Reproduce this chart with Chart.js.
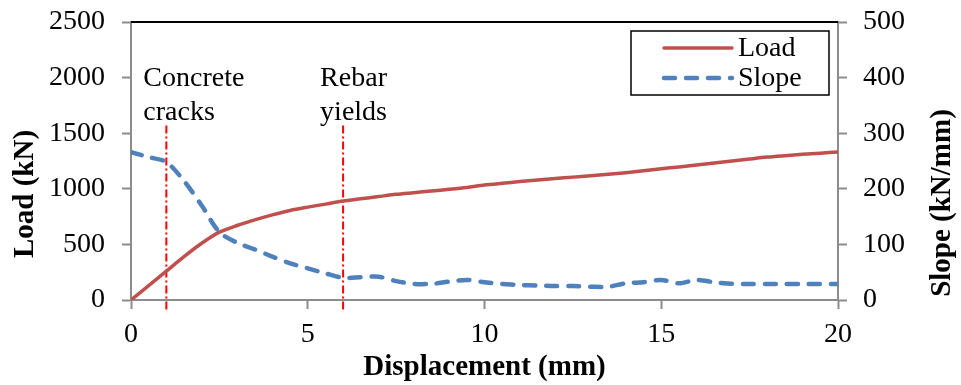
<!DOCTYPE html>
<html>
<head>
<meta charset="utf-8">
<script src="https://cdn.jsdelivr.net/npm/chart.js@4/dist/chart.umd.min.js"></script>
<style>
  body { margin: 0; background: #fff; }
  #wrap { width: 961px; height: 385px; }
</style>
</head>
<body>
<div id="wrap"><canvas id="loadChart" width="961" height="385"></canvas></div>
<script>
// displacement (mm)
const displacement = [0, 0.5, 1, 1.5, 2, 2.5, 3, 3.5, 4, 4.5, 5, 5.5, 6, 6.5, 7, 7.5, 8, 8.5, 9, 9.5,
    10, 10.5, 11, 11.5, 12, 12.5, 13, 13.5, 14, 14.5, 15, 15.5, 16, 16.5, 17, 17.5, 18, 18.5, 19, 19.5, 20];
// load (kN)
const load = [0, 130, 260, 390, 510, 610, 670, 720, 765, 805, 835, 862, 890, 910, 930, 950, 965, 980, 995, 1012,
    1034, 1050, 1065, 1079, 1092, 1105, 1118, 1131, 1145, 1162, 1180, 1197, 1215, 1232, 1250, 1268, 1285, 1298, 1310, 1320, 1331];
// slope (kN/mm)
const slope = [266, 257, 248, 214, 170, 122, 103, 91, 78, 66, 57, 48, 40, 41, 42, 34, 29, 29, 33, 36,
    32, 29, 27, 26, 25, 25, 24, 24, 30, 32, 36, 30, 36, 32, 29, 29, 29, 29, 29, 29, 29];

// events marked with vertical lines
const eventX = [1, 6];
const eventText = [["Concrete", "cracks"], ["Rebar", "yields"]];

const xTicks = [0, 5, 10, 15, 20];
const loadTicks = [0, 500, 1000, 1500, 2000, 2500];
const slopeTicks = [0, 100, 200, 300, 400, 500];

const SERIF = '"Liberation Serif", "Times New Roman", serif';
const AXIS_GRAY = '#8c8c8c';

function pts(xs, ys) {
    return xs.map((x, i) => ({ x: x, y: ys[i] }));
}

const markerSets = eventX.map(x => ({
    label: 'marker',
    data: [{ x: x, y: -85 }, { x: x, y: 1575 }],
    yAxisID: 'y',
    borderColor: '#ff0000',
    borderWidth: 2,
    borderDash: [8, 3, 2, 3],
    pointRadius: 0,
    clip: false,
    order: 5
}));

// annotations, legend box, top border and the y titles
const extras = {
    id: 'extras',
    afterDraw(chart) {
        const c = chart.ctx;
        const xs = chart.scales.x, ys = chart.scales.y;
        const area = chart.chartArea;
        c.save();

        // top border
        c.strokeStyle = '#000';
        c.lineWidth = 2;
        c.beginPath();
        c.moveTo(area.left, area.top);
        c.lineTo(area.right, area.top);
        c.stroke();

        // event labels
        c.fillStyle = '#000';
        c.font = '28px ' + SERIF;
        c.textAlign = 'left';
        c.textBaseline = 'alphabetic';
        eventText.forEach((lines, i) => {
            const px = xs.getPixelForValue(eventX[i]) - 23;
            lines.forEach((t, j) => {
                c.fillText(t, px, ys.getPixelForValue(1924) + j * 34);
            });
        });

        // legend
        const lx = 631, ly = 31, lw = 198, lh = 64;
        c.lineWidth = 1.5;
        c.strokeStyle = '#000';
        c.strokeRect(lx, ly, lw, lh);
        const entries = chart.data.datasets.filter(d => d.label !== 'marker');
        entries.forEach((d, i) => {
            const y = ly + 17 + i * 30;
            c.strokeStyle = d.borderColor;
            c.lineWidth = d.borderWidth;
            c.lineCap = 'round';
            c.setLineDash(d.borderDash || []);
            c.beginPath();
            c.moveTo(664, y);
            c.lineTo(732, y);
            c.stroke();
            c.setLineDash([]);
            c.fillStyle = '#000';
            c.textBaseline = 'middle';
            c.fillText(d.label, 738, y + 1);
        });

        // y titles, both read bottom to top
        c.font = 'bold 29px ' + SERIF;
        c.textAlign = 'center';
        c.textBaseline = 'middle';
        [['Load (kN)', 26, 194], ['Slope (kN/mm)', 943, 203]].forEach(([t, x, y]) => {
            c.save();
            c.translate(x, y);
            c.rotate(-Math.PI / 2);
            c.fillText(t, 0, 0);
            c.restore();
        });
        c.restore();
    }
};

const axisCommon = {
    border: { color: AXIS_GRAY, width: 2 },
    grid: { drawOnChartArea: false, drawTicks: true, tickLength: 9, color: AXIS_GRAY, tickWidth: 2 },
};
const plain = v => String(v);

new Chart(document.getElementById('loadChart').getContext('2d'), {
    type: 'line',
    data: {
        datasets: [{
            label: 'Load',
            data: pts(displacement, load),
            yAxisID: 'y',
            borderColor: '#c0504d',
            borderWidth: 3.5,
            pointRadius: 0,
            tension: 0.3,
            order: 1
        }, {
            label: 'Slope',
            data: pts(displacement, slope),
            yAxisID: 'y2',
            borderColor: '#4f81bd',
            borderWidth: 4.5,
            borderDash: [11, 11],
            borderCapStyle: 'round',
            pointRadius: 0,
            tension: 0.3,
            order: 0
        }].concat(markerSets)
    },
    options: {
        responsive: false,
        animation: false,
        layout: { padding: { top: 22, left: 0, right: 0, bottom: 0 } },
        plugins: { legend: { display: false }, tooltip: { enabled: false } },
        scales: {
            x: {
                type: 'linear',
                min: 0, max: 20,
                ...axisCommon,
                afterBuildTicks: s => { s.ticks = xTicks.map(v => ({ value: v })); },
                ticks: { color: '#000', font: { family: SERIF, size: 28 }, padding: 9, maxRotation: 0, callback: plain },
                title: {
                    display: true, text: 'Displacement (mm)', color: '#000',
                    font: { family: SERIF, size: 29, weight: 'bold' }, padding: 0
                },
                afterFit: s => { s.height = 85; s.paddingLeft = 0; s.paddingRight = 0; }
            },
            y: {
                position: 'left',
                min: 0, max: 2500,
                ...axisCommon,
                afterBuildTicks: s => { s.ticks = loadTicks.map(v => ({ value: v })); },
                ticks: { color: '#000', font: { family: SERIF, size: 28 }, padding: 17, callback: plain },
                afterFit: s => { s.width = 131; s.paddingTop = 0; s.paddingBottom = 0; }
            },
            y2: {
                position: 'right',
                min: 0, max: 500,
                ...axisCommon,
                afterBuildTicks: s => { s.ticks = slopeTicks.map(v => ({ value: v })); },
                ticks: { color: '#000', font: { family: SERIF, size: 28 }, padding: 16, callback: plain },
                afterFit: s => { s.width = 123; s.paddingTop = 0; s.paddingBottom = 0; }
            }
        }
    },
    plugins: [extras]
});
</script>
</body>
</html>
